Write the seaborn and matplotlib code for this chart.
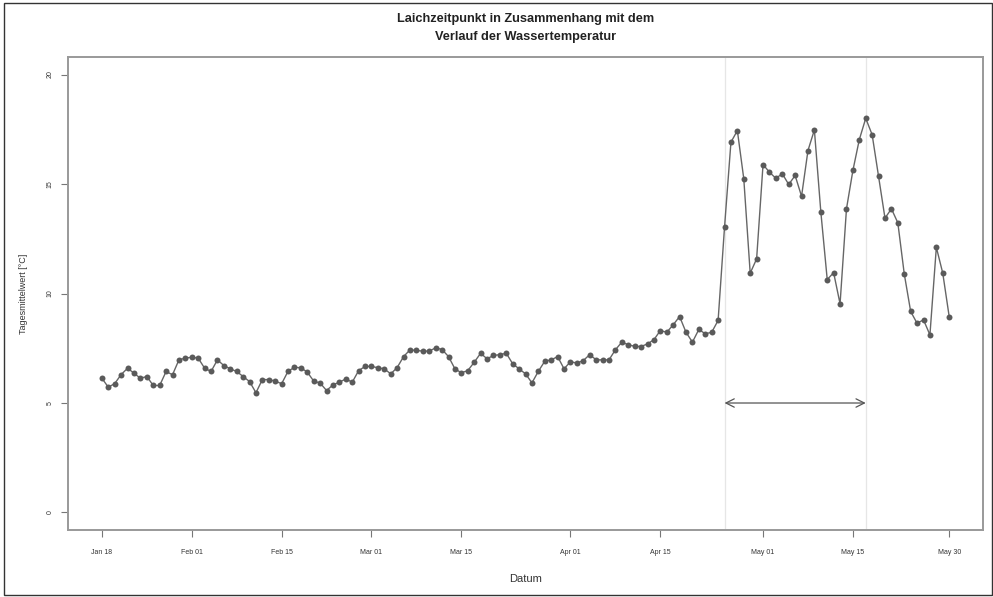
import numpy as np
import pandas as pd
import matplotlib
matplotlib.use("Agg")
import matplotlib.pyplot as plt
import matplotlib.dates as mdates
from matplotlib.patches import Rectangle
import seaborn as sns

# ---- data ----
start_date = "2015-01-18"
n_days = 133
temperature = [
    6.13, 5.72, 5.89, 6.30, 6.59, 6.36, 6.13, 6.21, 5.80, 5.80, 6.44, 6.29,
    6.97, 7.05, 7.09, 7.05, 6.59, 6.44, 6.97, 6.71, 6.56, 6.44, 6.21, 5.98,
    5.47, 6.07, 6.07, 6.00, 5.88, 6.45, 6.63, 6.61, 6.41, 6.00, 5.91, 5.57,
    5.83, 5.95, 6.10, 5.95, 6.48, 6.67, 6.67, 6.61, 6.56, 6.33, 6.62,
    7.12, 7.43, 7.40, 7.37, 7.37, 7.52, 7.44, 7.12, 6.56, 6.38, 6.48, 6.86,
    7.27, 7.02, 7.17, 7.21, 7.27, 6.79, 6.56, 6.33, 5.92, 6.45, 6.91,
    6.97, 7.12, 6.56, 6.89, 6.82, 6.94, 7.21, 6.97, 6.97, 6.97, 7.43, 7.78,
    7.66, 7.59, 7.58, 7.70, 7.89, 8.31, 8.23, 8.57, 8.95, 8.23, 7.78, 8.36,
    8.16, 8.23, 8.77,
    13.03, 16.91, 17.44, 15.24, 10.93, 11.58, 15.89, 15.54, 15.26, 15.47,
    14.98, 15.39, 14.44, 16.53, 17.47, 13.74, 10.64, 10.95, 9.53, 13.87,
    15.62, 17.03, 18.00, 17.25, 15.36, 13.44, 13.87, 13.23, 10.90, 9.18,
    8.64, 8.80, 8.11, 12.11, 10.93, 8.95,
]
spawn_start = "2015-04-25"
spawn_end = "2015-05-17"
arrow_level = 5
x_tick_dates = ["2015-01-18", "2015-02-01", "2015-02-15", "2015-03-01", "2015-03-15",
                "2015-04-01", "2015-04-15", "2015-05-01", "2015-05-15", "2015-05-30"]
x_tick_labels = ["Jan 18", "Feb 01", "Feb 15", "Mar 01", "Mar 15",
                 "Apr 01", "Apr 15", "May 01", "May 15", "May 30"]
y_ticks = [0, 5, 10, 15, 20]

dates = pd.date_range(start_date, periods=n_days, freq="D")
df = pd.DataFrame({"Datum": dates, "Temp": temperature})

# ---- figure ----
sns.set_style("white")
plt.rcParams["font.family"] = ["Liberation Sans", "DejaVu Sans"]

fig = plt.figure(figsize=(9.93, 5.97), dpi=100)
ax = fig.add_axes([0.0685, 0.1122, 0.9215, 0.7923])

for d in (spawn_start, spawn_end):
    ax.axvline(pd.Timestamp(d), color="#e6e6e6", lw=0.9, zorder=0)

sns.lineplot(data=df, x="Datum", y="Temp", ax=ax, color="#666666", lw=1.0,
             marker="o", markersize=4.3, markeredgewidth=0, markerfacecolor="#5a5a5a")

ax.annotate("", xy=(pd.Timestamp(spawn_start), arrow_level),
            xytext=(pd.Timestamp(spawn_end), arrow_level),
            arrowprops=dict(arrowstyle="<->", color="#555555", lw=0.9,
                            mutation_scale=15, shrinkA=0, shrinkB=0))

x0 = mdates.date2num(dates[0]); x1 = mdates.date2num(dates[-1])
pad = (x1 - x0) * 0.04
ax.set_xlim(x0 - pad, x1 + pad)
ax.set_ylim(-0.8, 20.8)

ax.set_xticks([pd.Timestamp(d) for d in x_tick_dates])
ax.set_xticklabels(x_tick_labels)
ax.set_yticks(y_ticks)
ax.set_yticklabels([str(v) for v in y_ticks], rotation=90, va="center")

ax.tick_params(axis="both", which="major", direction="out", length=5, width=0.8,
               color="#777777", labelsize=5.0, labelcolor="#333333",
               bottom=True, left=True)
ax.tick_params(axis="x", pad=9)
ax.tick_params(axis="y", pad=5.5)

for s in ax.spines.values():
    s.set_color("#999999")
    s.set_linewidth(1.4)

ax.set_xlabel("Datum", fontsize=8, color="#333333", labelpad=12.5)
ax.set_ylabel("Tagesmittelwert [°C]", fontsize=6.5, color="#333333", labelpad=13)

fig.text(0.529, 1 - 28 / 597, "Laichzeitpunkt in Zusammenhang mit dem\nVerlauf der Wassertemperatur",
         ha="center", va="center", fontsize=9.2, fontweight="bold", color="#222222",
         linespacing=1.6)

fig.patches.append(Rectangle((4 / 993, 2 / 597), 988 / 993, 592 / 597,
                             transform=fig.transFigure, fill=False,
                             edgecolor="#333333", lw=1.0))

fig.savefig("out.png", dpi=100)
